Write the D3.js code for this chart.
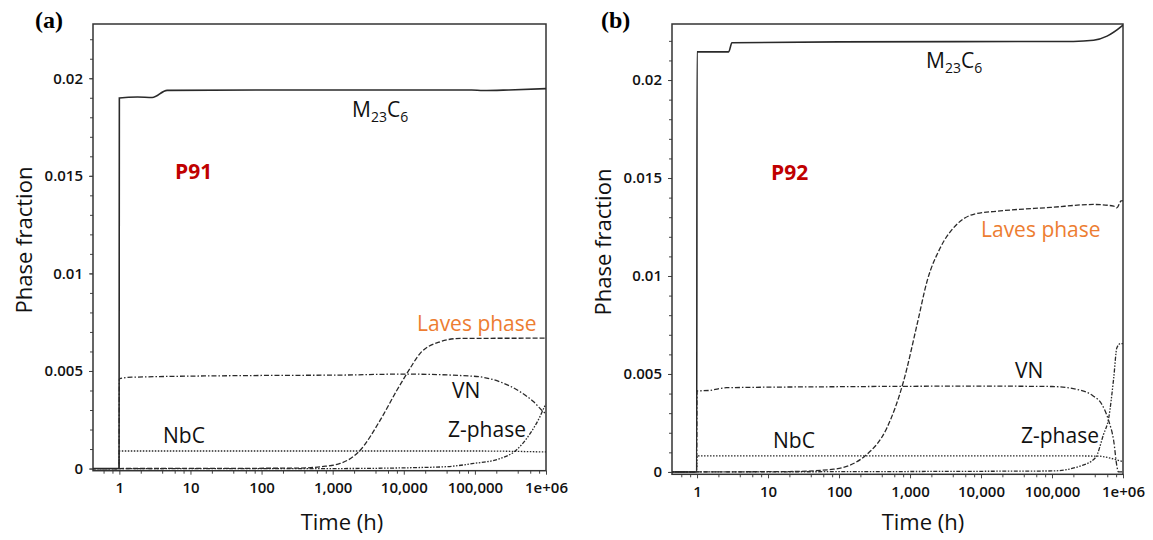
<!DOCTYPE html>
<html>
<head>
<meta charset="utf-8">
<script src="https://cdn.jsdelivr.net/npm/d3@7"></script>
<style>
body { margin: 0; background: #fff; }
</style>
</head>
<body>
<script>
// time (h) / phase fraction pairs
var xTickVals = [1, 10, 100, 1000, 10000, 100000, 1000000]
var xTickLabels = ["1", "10", "100", "1,000", "10,000", "100,000", "1e+06"]
var yTickVals = [0, 0.005, 0.01, 0.015, 0.02]
var yTickLabels = ["0", "0.005", "0.01", "0.015", "0.02"]

// (a) P91
var p91M23C6 = [[0.4, 0], [0.99, 0], [1, 0.01899], [1.8, 0.01904], [2.9, 0.01901], [4.7, 0.01938], [100, 0.0194], [9e4, 0.0194], [1.3e5, 0.01937], [3e5, 0.0194], [1e6, 0.01947]]
var p91Laves = [[0.4, 0], [300, 0.00002], [700, 0.0001], [1275, 0.00026], [2440, 0.00094], [4660, 0.00248], [8000, 0.00401], [11060, 0.00487], [17000, 0.0059], [32600, 0.0065], [62000, 0.00667], [1e6, 0.00668]]
var p91VN = [[0.4, 0], [0.99, 0], [1, 0.0046], [1.5, 0.00468], [100, 0.00477], [1275, 0.00479], [10000, 0.00484], [9.6e4, 0.00473], [2.27e5, 0.00444], [4.35e5, 0.00393], [6.7e5, 0.00342], [9.25e5, 0.0029], [1e6, 0.0028]]
var p91NbC = [[0.4, 0], [0.99, 0], [1, 0.0009], [1e5, 0.0009], [1e6, 0.00085]]
var p91Z = [[0.4, 0], [1000, 0], [32600, 0.00008], [9.6e4, 0.00026], [2.27e5, 0.00051], [3.8e5, 0.00094], [6e5, 0.0018], [8.2e5, 0.00265], [9.5e5, 0.00316], [1e6, 0.0033]]

// (b) P92
var p92M23C6 = [[0.4, 0], [0.99, 0], [1, 0.02144], [2.79, 0.02144], [3.1, 0.0219], [100, 0.02195], [2e5, 0.02197], [3.85e5, 0.02203], [5.96e5, 0.02224], [9.7e5, 0.02276], [1e6, 0.0228]]
var p92Laves = [[0.4, 0], [20, 0.00002], [84, 0.00014], [248, 0.0009], [474, 0.00226], [813, 0.00464], [1260, 0.00754], [1740, 0.00974], [2670, 0.01144], [4580, 0.01264], [7870, 0.01315], [18700, 0.01332], [9.5e4, 0.0135], [3.8e5, 0.01365], [7.4e5, 0.01357], [8.2e5, 0.01348], [9.4e5, 0.01383], [1e6, 0.01385]]
var p92VN = [[0.4, 0], [0.99, 0], [1, 0.00413], [1.5, 0.00416], [2.6, 0.0043], [100, 0.00435], [1e4, 0.00438], [1e5, 0.00436], [2.5e5, 0.00417], [3.8e5, 0.00388], [5e5, 0.00347], [6.3e5, 0.0026], [7.4e5, 0.00158], [8.2e5, 0.0003], [8.6e5, 0], [1e6, 0]]
var p92NbC = [[0.4, 0], [0.99, 0], [1, 0.00082], [1e5, 0.00082], [4.4e5, 0.00081], [6.7e5, 0.0007], [9.2e5, 0.00056], [1e6, 0.00052]]
var p92Z = [[0.4, 0], [1e5, 0.00005], [2.5e5, 0.0003], [4.1e5, 0.00073], [5.3e5, 0.0019], [6.3e5, 0.00277], [7.4e5, 0.0048], [8.2e5, 0.00634], [9.2e5, 0.00655], [1e6, 0.00655]]

var sans = "'Open Sans', 'Noto Sans', sans-serif"

var svg = d3.select("body")
	.append("svg")
	.attr("width", 1153)
	.attr("height", 540)
	.style("font-family", sans)

svg.append("rect").attr("width", 1153).attr("height", 540).attr("fill", "white")

var styles = {
	m23: {dash: null, width: 1.6},
	laves: {dash: "5,2", width: 1.3},
	vn: {dash: "5,2,1.5,2", width: 1.3},
	nbc: {dash: "1.5,1.5", width: 1.3},
	z: {dash: "4,1.5,1.5,1.5,1.5,1.5", width: 1.3}
}

var panels = [
	{
		id: "a", tag: "(a)", alloy: "P91", left: 93, right: 546, top: 24, bottom: 470.7,
		xMin: 0.426, yMin: -0.00011, yMax: 0.02278,
		series: [["m23", p91M23C6], ["laves", p91Laves], ["vn", p91VN], ["nbc", p91NbC], ["z", p91Z]],
		tagPos: [35, 28], alloyPos: [175, 179], m23Pos: [352, 117],
		lavesPos: [417, 331], vnPos: [452, 398], nbcPos: [163, 443], zPos: [448, 437],
		yTitleX: 32, yTitleY: 240, xTitle: [342, 530]
	},
	{
		id: "b", tag: "(b)", alloy: "P92", left: 672, right: 1123, top: 24, bottom: 474.3,
		xMin: 0.444, yMin: -0.00012, yMax: 0.02286,
		series: [["m23", p92M23C6], ["laves", p92Laves], ["vn", p92VN], ["nbc", p92NbC], ["z", p92Z]],
		tagPos: [601, 28], alloyPos: [771, 180], m23Pos: [926, 68],
		lavesPos: [981, 237], vnPos: [1015, 378], nbcPos: [773, 448], zPos: [1021, 443],
		yTitleX: 611, yTitleY: 242, xTitle: [923, 530]
	}
]

panels.forEach(drawPanel)

function drawPanel(p) {
	var x = d3.scaleLog().domain([p.xMin, 1e6]).range([p.left, p.right])
	var y = d3.scaleLinear().domain([p.yMin, p.yMax]).range([p.bottom, p.top])

	var g = svg.append("g")

	svg.append("defs").append("clipPath")
		.attr("id", "clip-" + p.id)
		.append("rect")
			.attr("x", p.left)
			.attr("y", p.top - 1)
			.attr("width", p.right - p.left)
			.attr("height", p.bottom - p.top + 1)

	// minor ticks
	var minorX = []
	;[0.1, 1, 10, 100, 1000, 10000, 100000].forEach(function(dec) {
		[2, 4, 6, 8].forEach(function(m) {
			var v = dec * m
			if (v > p.xMin && v < 1e6) minorX.push(v)
		})
	})
	g.append("g")
		.attr("transform", "translate(0," + p.bottom + ")")
		.call(d3.axisBottom(x).tickValues(minorX).tickFormat("").tickSizeInner(3).tickSizeOuter(0))
		.call(function(s) { s.select(".domain").remove() })
		.selectAll("line").attr("stroke", "#444")

	var minorY = d3.range(0, 0.0225, 0.001)
	g.append("g")
		.attr("transform", "translate(" + p.left + ",0)")
		.call(d3.axisLeft(y).tickValues(minorY).tickFormat("").tickSizeInner(3).tickSizeOuter(0))
		.call(function(s) { s.select(".domain").remove() })
		.selectAll("line").attr("stroke", "#444")

	// major axes
	var xAxis = g.append("g")
		.attr("transform", "translate(0," + p.bottom + ")")
		.call(d3.axisBottom(x).tickValues(xTickVals)
			.tickFormat(function(d, i) { return xTickLabels[i] })
			.tickSizeInner(4).tickSizeOuter(0).tickPadding(8))
	xAxis.select(".domain").remove()
	xAxis.selectAll("line").attr("stroke", "#444")
	xAxis.selectAll("text")
		.style("font-family", sans)
		.style("font-size", "15px")
		.style("font-weight", 600)
		.attr("fill", "#111")

	var yAxis = g.append("g")
		.attr("transform", "translate(" + p.left + ",0)")
		.call(d3.axisLeft(y).tickValues(yTickVals)
			.tickFormat(function(d, i) { return yTickLabels[i] })
			.tickSizeInner(4).tickSizeOuter(0).tickPadding(6))
	yAxis.select(".domain").remove()
	yAxis.selectAll("line").attr("stroke", "#444")
	yAxis.selectAll("text")
		.style("font-family", sans)
		.style("font-size", "15px")
		.style("font-weight", 600)
		.attr("fill", "#111")

	// frame
	g.append("rect")
		.attr("x", p.left)
		.attr("y", p.top)
		.attr("width", p.right - p.left)
		.attr("height", p.bottom - p.top)
		.attr("fill", "none")
		.attr("stroke", "#333")
		.attr("stroke-width", 1.5)

	var line = d3.line()
		.x(function(d) { return x(d[0]) })
		.y(function(d) { return y(d[1]) })
		.curve(d3.curveMonotoneX)

	g.append("g")
		.attr("clip-path", "url(#clip-" + p.id + ")")
		.selectAll("path")
		.data(p.series)
		.enter()
		.append("path")
			.attr("d", function(s) { return line(s[1]) })
			.attr("fill", "none")
			.attr("stroke", "#2a2a2a")
			.attr("stroke-width", function(s) { return styles[s[0]].width })
			.attr("stroke-dasharray", function(s) { return styles[s[0]].dash })

	// labels
	g.append("text")
		.attr("x", p.tagPos[0]).attr("y", p.tagPos[1])
		.style("font-family", "'Liberation Serif', 'DejaVu Serif', serif")
		.style("font-weight", "bold")
		.style("font-size", "24px")
		.text(p.tag)

	g.append("text")
		.attr("x", p.alloyPos[0]).attr("y", p.alloyPos[1])
		.style("font-weight", "bold")
		.style("font-size", "21px")
		.attr("fill", "#c00000")
		.text(p.alloy)

	var m = g.append("text")
		.attr("x", p.m23Pos[0]).attr("y", p.m23Pos[1])
		.style("font-size", "21px")
		.attr("fill", "#111")
	m.append("tspan").text("M")
	m.append("tspan").style("font-size", "14px").attr("dy", 5).text("23")
	m.append("tspan").attr("dy", -5).text("C")
	m.append("tspan").style("font-size", "14px").attr("dy", 5).text("6")

	g.append("text")
		.attr("x", p.lavesPos[0]).attr("y", p.lavesPos[1])
		.style("font-size", "21px")
		.attr("fill", "#ed7d31")
		.text("Laves phase")

	;[[p.vnPos, "VN"], [p.nbcPos, "NbC"], [p.zPos, "Z-phase"]].forEach(function(l) {
		g.append("text")
			.attr("x", l[0][0]).attr("y", l[0][1])
			.style("font-size", "21px")
			.attr("fill", "#111")
			.text(l[1])
	})

	g.append("text")
		.attr("transform", "translate(" + p.yTitleX + "," + p.yTitleY + ") rotate(-90)")
		.attr("text-anchor", "middle")
		.style("font-size", "22px")
		.attr("fill", "#111")
		.text("Phase fraction")

	g.append("text")
		.attr("x", p.xTitle[0]).attr("y", p.xTitle[1])
		.attr("text-anchor", "middle")
		.style("font-size", "22px")
		.attr("fill", "#111")
		.text("Time (h)")
}
</script>
</body>
</html>
